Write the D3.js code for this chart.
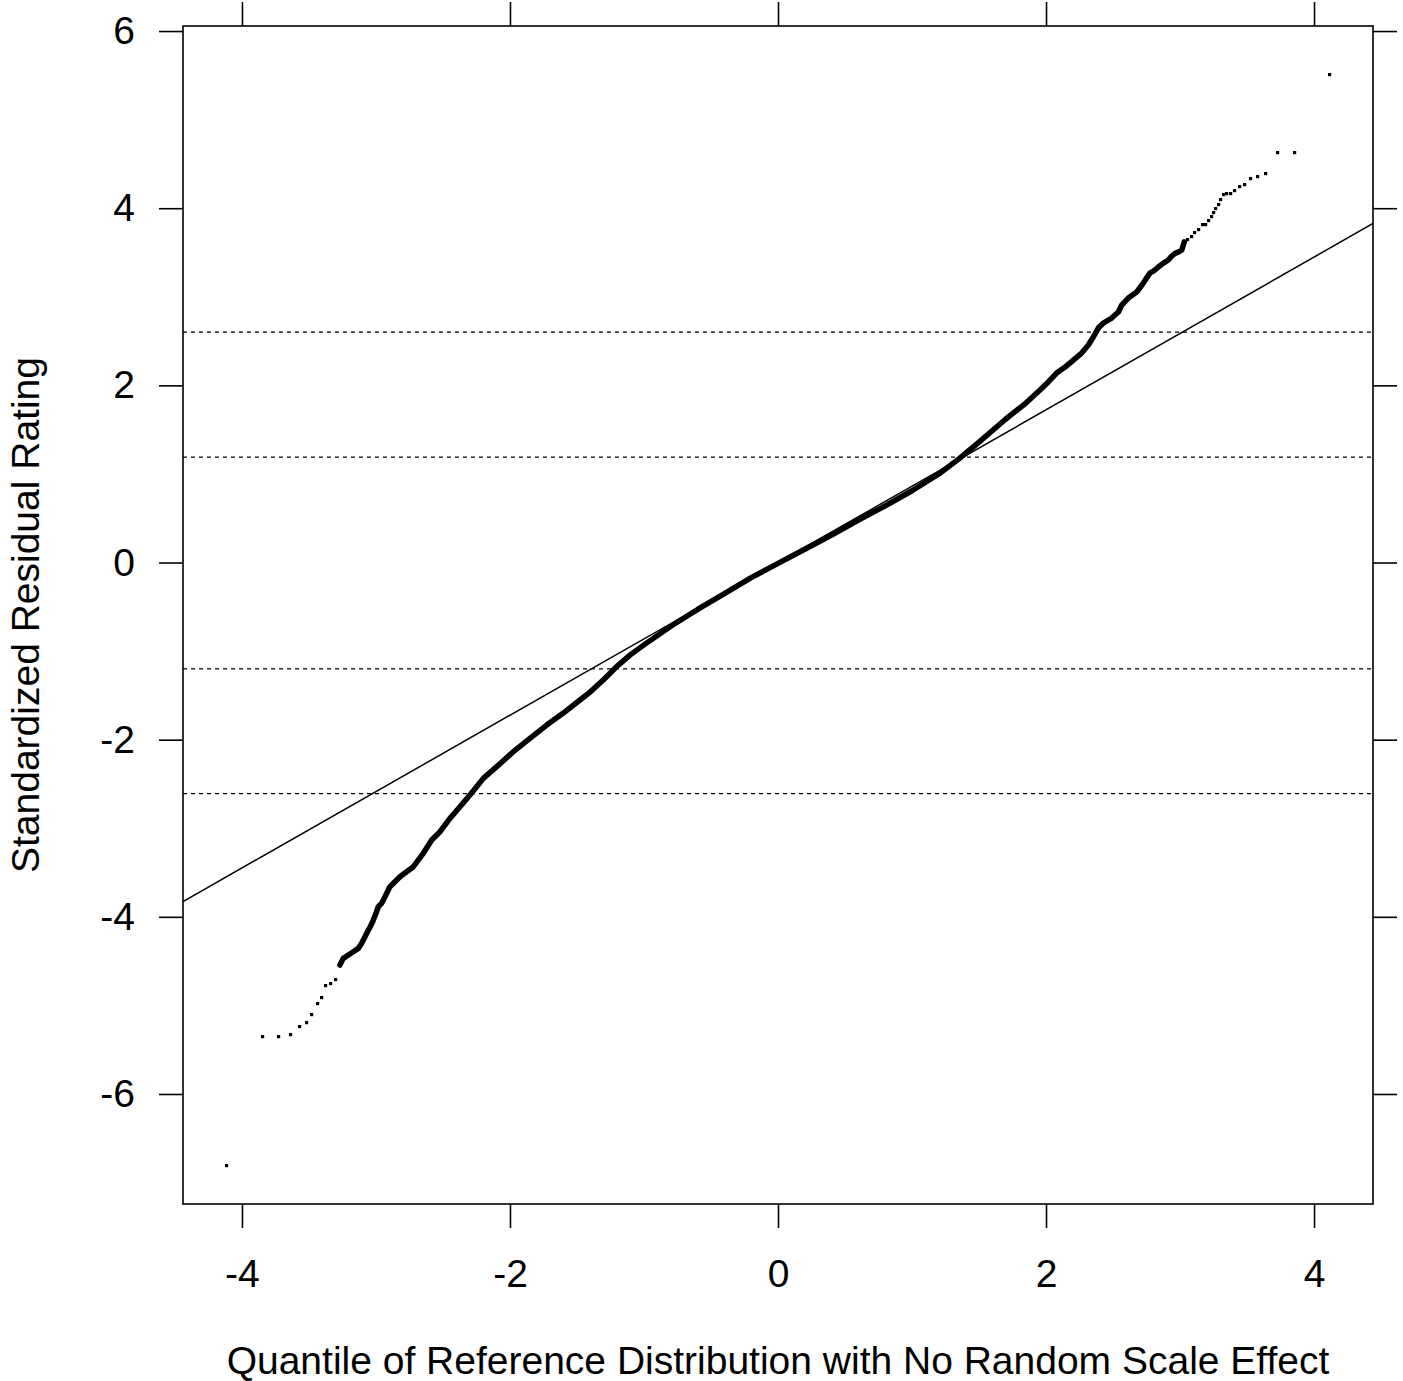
<!DOCTYPE html>
<html>
<head>
<meta charset="utf-8">
<script src="https://cdn.jsdelivr.net/npm/d3@7.9.0/dist/d3.min.js"></script>
<style>
  html, body { margin: 0; padding: 0; background: #fff; }
  svg { display: block; font-family: "Liberation Sans", Arial, sans-serif; }
</style>
</head>
<body>
<svg id="chart" width="1403" height="1381"></svg>
<script>
// tick values
const xTicks = [-4, -2, 0, 2, 4];
const yTicks = [-6, -4, -2, 0, 2, 4, 6];

// dotted reference levels
const refLevels = [-2.61, -1.2, 1.19, 2.6];

// reference line y = intercept + slope * x
const lineIntercept = 0;
const lineSlope = 0.862;

// dense part of the quantile curve (reference quantile, residual)
const bandQ = [-3.269, -3.244, -3.206, -3.169, -3.132, -3.107, -3.082, -3.057, -3.04, -3.02,
  -3.0, -2.983, -2.958, -2.933, -2.896, -2.821, -2.721, -2.647, -2.584, -2.522,
  -2.448, -2.373, -2.299, -2.249, -2.199, -2.099, -1.975, -1.851, -1.726, -1.602,
  -1.478, -1.4, -1.3, -1.2, -1.1, -1.0, -0.8, -0.6, -0.4, -0.2,
  0, 0.2, 0.4, 0.6, 0.8, 1.0, 1.2, 1.35, 1.5, 1.7,
  1.85, 1.955, 2.017, 2.079, 2.142, 2.204, 2.266, 2.316, 2.353, 2.39,
  2.428, 2.49, 2.54, 2.565, 2.614, 2.677, 2.726, 2.776, 2.801, 2.838,
  2.876, 2.913, 2.938, 2.963, 2.988, 3.013, 3.032];
const bandR = [-4.544, -4.469, -4.431, -4.394, -4.356, -4.299, -4.224, -4.149, -4.104, -4.036,
  -3.96, -3.886, -3.848, -3.773, -3.66, -3.547, -3.434, -3.283, -3.133, -3.039,
  -2.888, -2.757, -2.625, -2.531, -2.437, -2.305, -2.136, -1.985, -1.835, -1.7,
  -1.552, -1.46, -1.32, -1.17, -1.04, -0.93, -0.72, -0.53, -0.35, -0.17,
  -0.01, 0.15, 0.31, 0.48, 0.64, 0.81, 1.0, 1.17, 1.36, 1.62,
  1.8, 1.947, 2.038, 2.139, 2.207, 2.286, 2.365, 2.455, 2.546, 2.647,
  2.704, 2.76, 2.828, 2.907, 2.986, 3.054, 3.155, 3.27, 3.29, 3.336,
  3.38, 3.415, 3.46, 3.49, 3.505, 3.53, 3.62];

// sparse tail points
const tailQ = [-4.112, -3.848, -3.724, -3.637, -3.572, -3.52, -3.48, -3.438, -3.403, -3.373,
  -3.338, -3.301,
  3.058, 3.087, 3.112, 3.142, 3.167, 3.192, 3.211, 3.232, 3.249, 3.266,
  3.286, 3.304, 3.323, 3.351, 3.38, 3.41, 3.443, 3.485, 3.53, 3.577,
  3.639, 3.73, 3.853, 4.119];
const tailR = [-6.813, -5.357, -5.357, -5.331, -5.244, -5.199, -5.105, -4.984, -4.913, -4.781,
  -4.758, -4.713,
  3.65, 3.675, 3.73, 3.754, 3.81, 3.82, 3.855, 3.9, 3.946, 3.99,
  4.036, 4.092, 4.15, 4.16, 4.17, 4.195, 4.24, 4.262, 4.33, 4.352,
  4.386, 4.623, 4.623, 5.504];

const pLeft = 183, pRight = 1373, pTop = 26, pBottom = 1204;

const x = d3.scaleLinear().domain([-4.44, 4.44]).range([pLeft, pRight]);
const y = d3.scaleLinear().domain([-7.242, 6.057]).range([pBottom, pTop]);

const svg = d3.select('#chart');

// clip to the panel
svg.append('clipPath').attr('id', 'panel')
  .append('rect')
  .attr('x', pLeft).attr('y', pTop)
  .attr('width', pRight - pLeft).attr('height', pBottom - pTop);

const plot = svg.append('g').attr('clip-path', 'url(#panel)');

// dotted horizontal levels
plot.selectAll('line.level')
  .data(refLevels)
  .join('line')
  .attr('class', 'level')
  .attr('x1', pLeft).attr('x2', pRight)
  .attr('y1', (d) => y(d)).attr('y2', (d) => y(d))
  .attr('stroke', '#000')
  .attr('stroke-width', 1.2)
  .attr('stroke-dasharray', '4,4');

// reference line
const xd = x.domain();
plot.append('line')
  .attr('x1', x(xd[0])).attr('y1', y(lineIntercept + lineSlope * xd[0]))
  .attr('x2', x(xd[1])).attr('y2', y(lineIntercept + lineSlope * xd[1]))
  .attr('stroke', '#000')
  .attr('stroke-width', 1.5);

// dense band of points
const band = bandQ.map((q, i) => [q, bandR[i]]);
plot.append('path')
  .datum(band)
  .attr('d', d3.line().x((d) => x(d[0])).y((d) => y(d[1])))
  .attr('fill', 'none')
  .attr('stroke', '#000')
  .attr('stroke-width', 5.5)
  .attr('stroke-linejoin', 'round')
  .attr('stroke-linecap', 'round');

// tail points as small squares
const sz = 3.2;
plot.selectAll('rect.pt')
  .data(tailQ.map((q, i) => [q, tailR[i]]))
  .join('rect')
  .attr('class', 'pt')
  .attr('x', (d) => Math.round(x(d[0]) - sz / 2))
  .attr('y', (d) => Math.round(y(d[1]) - sz / 2))
  .attr('width', sz).attr('height', sz)
  .attr('fill', '#000');

// frame
svg.append('rect')
  .attr('x', pLeft).attr('y', pTop)
  .attr('width', pRight - pLeft).attr('height', pBottom - pTop)
  .attr('fill', 'none')
  .attr('stroke', '#000')
  .attr('stroke-width', 1.6);

// axes
const fontSize = 39;
const fmt = (d) => String(d);
function styleAxis(g) {
  g.select('.domain').remove();
  g.selectAll('.tick line').attr('stroke', '#000').attr('stroke-width', 1.6);
  g.selectAll('.tick text')
    .attr('fill', '#000')
    .attr('font-size', fontSize)
    .attr('font-family', '"Liberation Sans", Arial, sans-serif');
}

svg.append('g')
  .attr('transform', `translate(0,${pBottom})`)
  .call(d3.axisBottom(x).tickValues(xTicks).tickSize(24).tickPadding(31).tickFormat(fmt))
  .call(styleAxis);

svg.append('g')
  .attr('transform', `translate(0,${pTop})`)
  .call(d3.axisTop(x).tickValues(xTicks).tickSize(24).tickFormat(''))
  .call(styleAxis);

svg.append('g')
  .attr('transform', `translate(${pLeft},0)`)
  .call(d3.axisLeft(y).tickValues(yTicks).tickSize(24).tickPadding(24).tickFormat(fmt))
  .call(styleAxis);

svg.append('g')
  .attr('transform', `translate(${pRight},0)`)
  .call(d3.axisRight(y).tickValues(yTicks).tickSize(24).tickFormat(''))
  .call(styleAxis);

// axis titles
svg.append('text')
  .attr('x', (pLeft + pRight) / 2)
  .attr('y', 1374)
  .attr('text-anchor', 'middle')
  .attr('font-size', fontSize)
  .attr('fill', '#000')
  .text('Quantile of Reference Distribution with No Random Scale Effect');

svg.append('text')
  .attr('transform', `translate(39,${(pTop + pBottom) / 2}) rotate(-90)`)
  .attr('text-anchor', 'middle')
  .attr('font-size', fontSize)
  .attr('fill', '#000')
  .text('Standardized Residual Rating');
</script>
</body>
</html>
